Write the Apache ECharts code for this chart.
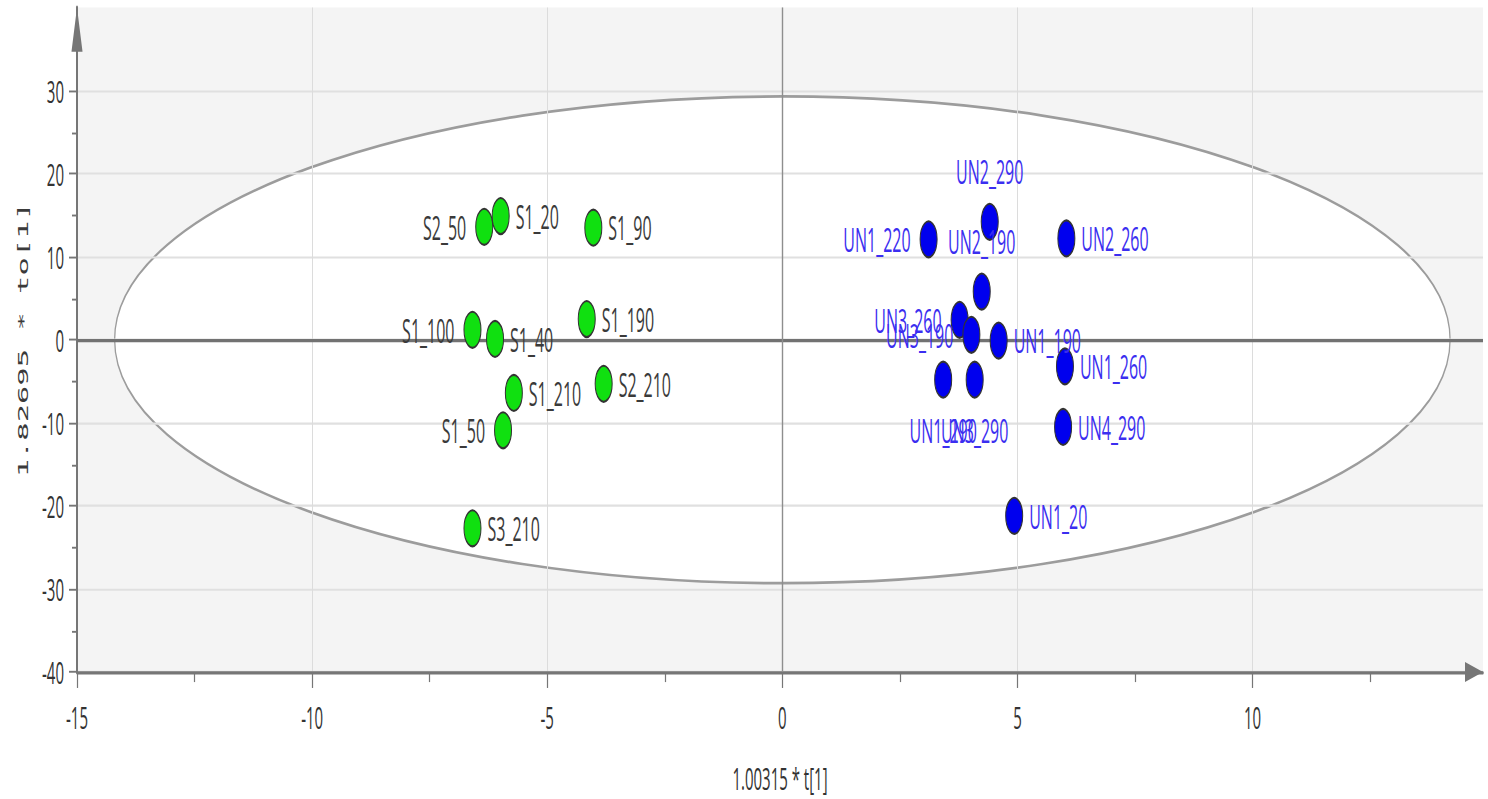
<!DOCTYPE html>
<html>
<head>
<meta charset="utf-8">
<script src="https://cdn.jsdelivr.net/npm/echarts@6/dist/echarts.min.js"></script>
<style>
  html, body { margin: 0; padding: 0; background: #fff; overflow: hidden; }
  #stage { width: 1488px; height: 799px; overflow: hidden; }
  /* the plot is laid out in a short box and stretched vertically */
  #chart { width: 1488px; height: 380px; transform: scaleY(2.1026); transform-origin: 0 0; }
</style>
</head>
<body>
<div id="stage"><div id="chart"></div></div>
<script>
// OPLS-DA score plot: predictive t[1] against orthogonal to[1]

// S group (green)
const sNames = ['S2_50', 'S1_20', 'S1_90', 'S1_100', 'S1_40', 'S1_190', 'S1_210', 'S2_210', 'S1_50', 'S3_210'];
const sT1    = [-6.34, -5.99, -4.02, -6.59, -6.11, -4.16, -5.71, -3.80, -5.94, -6.59];
const sTo1   = [13.6, 14.9, 13.5, 1.2, 0.1, 2.5, -6.4, -5.3, -10.9, -22.7];
const sLabelSide = ['left', 'right', 'right', 'left', 'right', 'right', 'right', 'right', 'left', 'right'];

// UN group (blue)
const unNames = ['UN2_290', 'UN1_220', 'UN2_190', 'UN2_260', 'UN3_260', 'UN3_190', 'UN1_190', 'UN1_260', 'UN1_290', 'UN3_290', 'UN4_290', 'UN1_20'];
const unT1    = [4.41, 3.11, 4.24, 6.04, 3.77, 4.02, 4.60, 6.01, 3.42, 4.09, 5.97, 4.93];
const unTo1   = [14.2, 12.1, 5.8, 12.2, 2.4, 0.6, -0.1, -3.2, -4.8, -4.8, -10.5, -21.2];
const unLabelSide = ['top', 'left', 'top', 'right', 'left', 'left', 'right', 'right', 'bottom', 'bottom', 'right', 'right'];

// Hotelling T2 ellipse semi-axes (t[1], to[1])
const ellipseAxes = [14.2, 29.3];

// axis ticks
const xTicks = [-15, -10, -5, 0, 5, 10];
const yTicks = [-40, -30, -20, -10, 0, 10, 20, 30];

const labelGap = { right: 6, left: 9, top: 7, bottom: 7 };

function points(names, xs, ys, sides) {
  return names.map((n, i) => ({
    name: n,
    value: [xs[i], ys[i]],
    label: { position: sides[i], distance: labelGap[sides[i]] }
  }));
}

const axisGrey = '#767676';
const textFont = 'Open Sans';

const chart = echarts.init(document.getElementById('chart'), null, { renderer: 'svg' });

chart.setOption({
  animation: false,
  backgroundColor: '#ffffff',
  grid: {
    left: 77, right: 5, top: 3.6, bottom: 60.4,
    show: true, backgroundColor: '#f4f4f4', borderWidth: 0,
    outerBoundsMode: 'none'
  },
  xAxis: {
    type: 'value', min: -15, max: 14.9, interval: 5, z: 3,
    name: '1.00315 * t[1]', nameLocation: 'middle', nameGap: 43,
    nameTextStyle: { fontFamily: textFont, fontSize: 15, color: '#333' },
    axisLine: {
      show: true, onZero: false,
      symbol: ['none', 'triangle'], symbolSize: [9.5, 18], symbolOffset: [0, -9],
      lineStyle: { color: axisGrey, width: 1.5 }
    },
    axisTick: { show: true, length: 7.6, customValues: xTicks, lineStyle: { color: axisGrey, width: 1.2 } },
    minorTick: { show: true, splitNumber: 2, length: 4.8, lineStyle: { color: axisGrey, width: 1.2 } },
    axisLabel: { customValues: xTicks, margin: 14, fontFamily: textFont, fontSize: 15, color: '#333' },
    splitLine: { show: true, lineStyle: { color: '#dcdcdc', width: 1 } }
  },
  yAxis: {
    type: 'value', min: -40, max: 40, interval: 10, z: 3,
    name: '1.82695 * to[1]', nameLocation: 'middle', nameGap: 44, nameRotate: 90,
    nameTextStyle: { fontFamily: 'DejaVu Sans Mono', fontSize: 14.5, color: '#3a3a3a' },
    axisLine: {
      show: true, onZero: false,
      symbol: ['none', 'triangle'], symbolSize: [11, 21], symbolOffset: [0, -10.5],
      lineStyle: { color: axisGrey, width: 2 }
    },
    axisTick: { show: true, length: 8, customValues: yTicks, lineStyle: { color: axisGrey, width: 0.9 } },
    minorTick: { show: true, splitNumber: 2, length: 5, lineStyle: { color: axisGrey, width: 0.9 } },
    axisLabel: { customValues: yTicks, margin: 13, fontFamily: textFont, fontSize: 15, color: '#333' },
    splitLine: { show: true, lineStyle: { color: '#e0e0e0', width: 1 } }
  },
  series: [
    {
      // confidence ellipse
      type: 'custom', z: 1, silent: true,
      data: [[0, 0]],
      renderItem: function (params, api) {
        const c = api.coord([0, 0]);
        const r = api.size([ellipseAxes[0], ellipseAxes[1]]);
        return {
          type: 'ellipse',
          shape: { cx: c[0], cy: c[1], rx: r[0], ry: r[1] },
          style: { fill: '#ffffff', stroke: '#9c9c9c', lineWidth: 1.3 }
        };
      }
    },
    {
      // zero reference lines
      type: 'line', z: 4, silent: true, data: [],
      markLine: {
        silent: true, symbol: 'none', animation: false,
        label: { show: false },
        data: [
          { yAxis: 0, lineStyle: { color: '#727272', width: 1.5, type: 'solid' } },
          { xAxis: 0, lineStyle: { color: '#8e8e8e', width: 1.4, type: 'solid' } }
        ]
      }
    },
    {
      name: 'S', type: 'scatter', z: 5,
      symbol: 'circle', symbolSize: 17,
      itemStyle: { color: '#10e010', borderColor: '#333', borderWidth: 1, opacity: 1 },
      label: { show: true, formatter: '{b}', fontFamily: textFont, fontSize: 16, color: '#3a3a3a' },
      data: points(sNames, sT1, sTo1, sLabelSide)
    },
    {
      name: 'UN', type: 'scatter', z: 5,
      symbol: 'circle', symbolSize: 17,
      itemStyle: { color: '#0000ee', borderColor: '#333', borderWidth: 1, opacity: 1 },
      label: { show: true, formatter: '{b}', fontFamily: textFont, fontSize: 16, color: '#3b2ef0' },
      labelLayout: { hideOverlap: false },
      data: points(unNames, unT1, unTo1, unLabelSide)
    }
  ]
});
</script>
</body>
</html>
